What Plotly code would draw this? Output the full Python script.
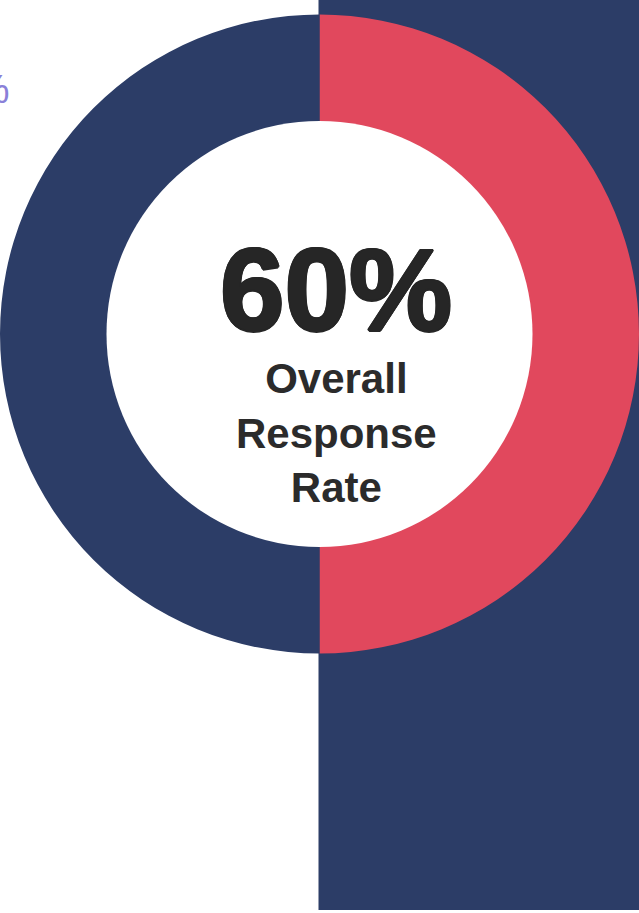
import plotly.graph_objects as go

# Data
segment_labels = ["Responded", "Remaining"]
segment_values = [50, 50]
segment_colors = ["#e1485d", "#2c3d67"]
headline_value = "60%"
headline_caption = ["Overall", "Response", "Rate"]

W, H = 639, 913
cx, cy, r = 319.5, 334, 319.5  # pixel centre / outer radius
r_in = 212                      # hole radius in pixels

def dom(rad):
    return dict(x=[(cx - rad) / W, (cx + rad) / W],
                y=[1 - (cy + rad) / H, 1 - (cy - rad) / H])

fig = go.Figure()
fig.add_trace(go.Pie(
    labels=segment_labels,
    values=segment_values,
    marker=dict(colors=segment_colors, line=dict(width=0)),
    hole=r_in / r,
    sort=False,
    direction="clockwise",
    rotation=0,
    textinfo="none",
    hoverinfo="label+value",
    showlegend=False,
    domain=dom(r),
))
# white disc filling the hole (covers the navy panel behind)
fig.add_trace(go.Pie(
    labels=["centre"], values=[1],
    marker=dict(colors=["white"], line=dict(width=0)),
    textinfo="none", hoverinfo="skip", showlegend=False,
    domain=dom(r_in + 1),
))

# navy background panel on the right
fig.add_shape(type="rect", xref="paper", yref="paper",
              x0=(cx - 1) / W, x1=1, y0=1 - 910 / H, y1=1,
              fillcolor="#2c3d67", line=dict(width=0), layer="below")

heavy = "#262626"
shadow = ", ".join(f"{dx}px {dy}px 0 {heavy}" for dx, dy in
                   [(1.5, 0), (-1.5, 0), (0, 1.5), (0, -1.5), (1, 1), (-1, -1), (1, -1), (-1, 1)])
fig.add_annotation(text=headline_value, x=336 / W, y=1 - 290 / H,
                   xref="paper", yref="paper", showarrow=False,
                   xanchor="center", yanchor="middle",
                   font=dict(family="Liberation Sans", size=116, color=heavy,
                             weight="bold", shadow=shadow))
fig.add_annotation(text="<br>".join(headline_caption), x=337 / W, y=1 - 433 / H,
                   xref="paper", yref="paper", showarrow=False,
                   xanchor="center", yanchor="middle",
                   font=dict(family="Liberation Sans", size=42, color="#2b2b2b", weight="bold"))
# partial purple glyph at top-left edge
fig.add_annotation(text="%", x=0, y=1 - 89 / H, xref="paper", yref="paper",
                   showarrow=False, xanchor="right", yanchor="middle", xshift=12,
                   font=dict(family="Liberation Sans", size=40, color="#8a80d8"))

fig.update_layout(width=W, height=H, margin=dict(l=0, r=0, t=0, b=0),
                  paper_bgcolor="white", plot_bgcolor="white")
fig.write_html("out.html", config={"displayModeBar": False},
               post_script="document.body.style.margin='0';document.body.style.overflow='hidden';")
